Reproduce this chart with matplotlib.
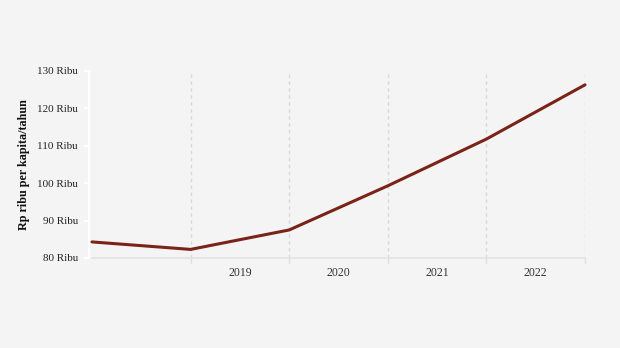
import matplotlib
matplotlib.use("Agg")
import matplotlib.pyplot as plt

# Data: per-capita value (Rp thousand per year)
points = [0, 1, 2, 3, 4, 5]
values = [84.3, 82.3, 87.5, 99.3, 111.8, 126.3]
year_labels = ["2019", "2020", "2021", "2022"]
year_positions = [1.5, 2.5, 3.5, 4.5]
y_ticks = [80, 90, 100, 110, 120, 130]
y_tick_labels = [f"{v} Ribu" for v in y_ticks]

bg = "#f4f4f4"
line_color = "#7a2318"

plt.rcParams["font.family"] = ["Liberation Serif", "DejaVu Serif"]

fig = plt.figure(figsize=(6.2, 3.48), dpi=100, facecolor=bg)
ax = fig.add_axes([92 / 620, 1 - 258 / 348, (585 - 92) / 620, (258 - 71) / 348])
ax.set_facecolor(bg)

# Spine placement first: moving a spine resets its axis ticks
for side in ["top", "right"]:
    ax.spines[side].set_visible(False)
ax.spines["left"].set_position(("outward", 2))
ax.spines["left"].set_color("white")
ax.spines["left"].set_linewidth(1.5)
ax.spines["bottom"].set_color("#e3e3e3")
ax.spines["bottom"].set_linewidth(1.2)

ax.plot(points, values, color=line_color, linewidth=2.2, solid_capstyle="round",
        solid_joinstyle="round", zorder=3, clip_on=False)

ax.set_xlim(0, 5)
ax.set_ylim(80, 130)

# Year boundaries: dashed gridlines with small ticks below the axis
for x in [1, 2, 3, 4, 5]:
    ax.axvline(x, color="#d9d9d9", linewidth=1, linestyle=(0, (2.5, 2.5)), zorder=1)
    ax.plot([x, x], [0, -0.025], transform=ax.get_xaxis_transform(),
            color="#e0e0e0", linewidth=1, clip_on=False)

ax.set_xticks(year_positions)
ax.set_xticklabels(year_labels, fontsize=8.5, color="#333333")
ax.tick_params(axis="x", length=0, pad=6.5)

ax.set_yticks(y_ticks)
ax.set_yticklabels(y_tick_labels, fontsize=8, color="#222222")
ax.tick_params(axis="y", length=3.6, width=1.5, color="white", pad=4.5)

ax.set_ylabel("Rp ribu per kapita/tahun", fontsize=8.7, fontweight="bold",
              color="#111111")
ax.yaxis.set_label_coords((30 - 92) / 493, 0.5)

fig.savefig("out.png", dpi=100, facecolor=bg)
